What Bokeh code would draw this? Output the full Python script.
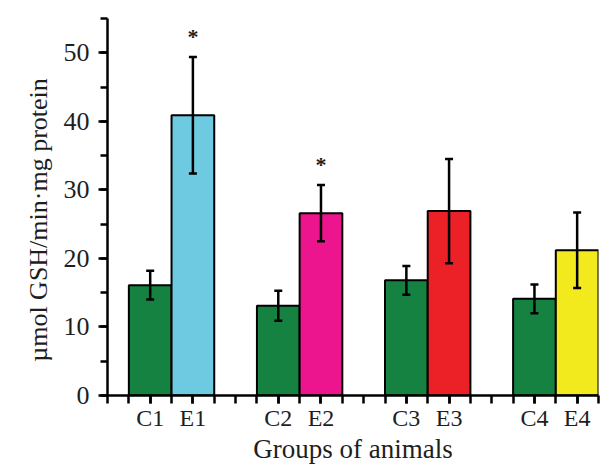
from bokeh.plotting import figure
from bokeh.models import ColumnDataSource, Whisker, TeeHead, FixedTicker, SingleIntervalTicker, Range1d, Title
from bokeh.core.properties import value
from bokeh.embed import file_html
from bokeh.resources import INLINE

groups = ["C1", "E1", "C2", "E2", "C3", "E3", "C4", "E4"]
means = [16.1, 40.9, 13.1, 26.6, 16.8, 26.9, 14.1, 21.2]
errors = [2.1, 8.5, 2.2, 4.1, 2.1, 7.6, 2.1, 5.5]
significant = [False, True, False, True, False, False, False, False]
bar_colors = ["#168241", "#6ECAE0", "#168241", "#EC158D", "#168241", "#EC2128", "#168241", "#F2EA1C"]
x_title = "Groups of animals"
y_title = "µmol GSH/min·mg protein"

# positions: each pair occupies 2 bars of width 2, pairs separated by a gap of 2
xs = [2 + 6 * (i // 2) + 2 * (i % 2) for i in range(len(groups))]
upper = [m + e for m, e in zip(means, errors)]
lower = [m - e for m, e in zip(means, errors)]

src = ColumnDataSource(dict(x=xs, top=means, upper=upper, lower=lower, color=bar_colors, name=groups))

FONT = "Liberation Serif"
TXT = "#1e1e1e"

p = figure(width=615, height=466, output_backend="svg", toolbar_location=None,
           x_range=Range1d(0, 23), y_range=Range1d(0, 55),
           min_border_left=107, min_border_right=17, min_border_top=18, min_border_bottom=68)
p.outline_line_color = None
p.grid.grid_line_color = None
p.background_fill_color = "white"

p.vbar(x="x", top="top", bottom=0, width=2, source=src, fill_color="color",
       line_color="black", line_width=2)

w = Whisker(base="x", upper="upper", lower="lower", source=src, dimension="height",
            line_width=2.5, line_color="black", level="overlay",
            upper_head=TeeHead(size=8, line_width=2.5, line_color="black"),
            lower_head=TeeHead(size=8, line_width=2.5, line_color="black"))
p.add_layout(w)

sx = [x for x, s in zip(xs, significant) if s]
sy = [u + 3.0 for u, s in zip(upper, significant) if s]
p.text(x=sx, y=sy, text=["*"] * len(sx), text_font=value(FONT), text_font_size="22px",
       text_align="center", text_baseline="middle", text_color=TXT, text_font_style="bold")

# x axis
p.xaxis.ticker = FixedTicker(ticks=xs, minor_ticks=list(range(0, 24)))
p.xaxis.major_label_overrides = {x: g for x, g in zip(xs, groups)}
p.xaxis.axis_label = x_title
# y axis
p.yaxis.ticker = SingleIntervalTicker(interval=10, num_minor_ticks=2)

for ax in (p.xaxis[0], p.yaxis[0]):
    ax.axis_line_width = 2.5
    ax.axis_line_color = "black"
    ax.major_tick_line_width = 2.5
    ax.minor_tick_line_width = 2.5
    ax.major_tick_line_color = "black"
    ax.minor_tick_line_color = "black"
    ax.major_tick_in = 0
    ax.minor_tick_in = 0
    ax.major_label_text_font = FONT
    ax.major_label_text_color = TXT
    ax.axis_label_text_font = FONT
    ax.axis_label_text_font_style = "normal"
    ax.axis_label_text_color = TXT
    ax.axis_label_text_font_size = "27px"

p.xaxis.major_tick_out = 8
p.xaxis.minor_tick_out = 8
p.xaxis.major_label_text_font_size = "24px"
p.xaxis.major_label_standoff = 1
p.xaxis.axis_label_standoff = 0
p.yaxis.major_tick_out = 9
p.yaxis.minor_tick_out = 7
p.yaxis.major_label_text_font_size = "26px"
p.yaxis.major_label_standoff = 9

ytitle = Title(text=y_title, align="center", standoff=0,
               padding=dict(left=0, right=26, top=12, bottom=8),
               text_font=FONT, text_font_size="26px", text_font_style="normal",
               text_color=TXT)
p.add_layout(ytitle, "left")

open("out.html", "w").write(file_html(p, INLINE))
